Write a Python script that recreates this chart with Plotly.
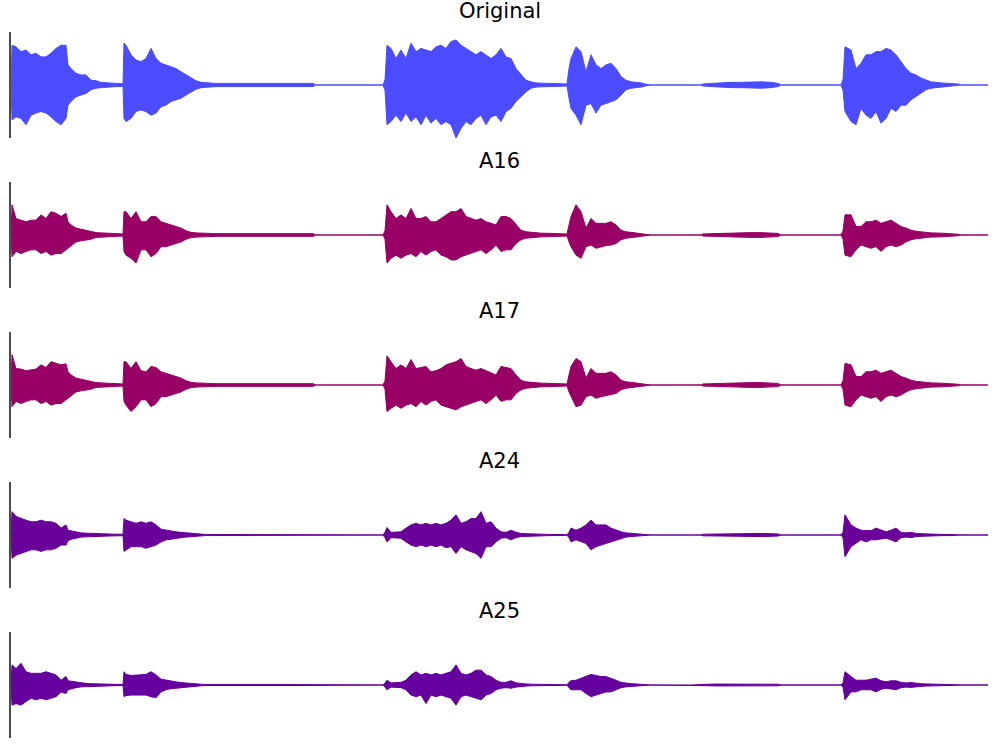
import plotly.graph_objects as go
from plotly.subplots import make_subplots

# time grid (seconds), shared by all series
T = [0.00,
     0.01, 0.05, 0.10, 0.15, 0.20, 0.25, 0.30, 0.35, 0.40, 0.45, 0.50, 0.55, 0.57, 0.60, 0.65, 0.70, 0.75, 0.80, 0.85, 0.90, 0.95, 1.00, 1.05, 1.10, 1.12,
     1.13, 1.15, 1.20, 1.25, 1.30, 1.35, 1.40, 1.45, 1.50, 1.55, 1.60, 1.65, 1.70, 1.75, 1.80, 1.85, 1.90, 1.95, 2.05, 2.20, 2.40, 2.60, 2.80, 3.02, 3.05,
     3.40, 3.72,
     3.74, 3.76, 3.80, 3.85, 3.90, 3.95, 4.00, 4.05, 4.10, 4.15, 4.20, 4.25, 4.30, 4.35, 4.40, 4.45, 4.50, 4.55, 4.60, 4.65, 4.70, 4.75, 4.80, 4.85,
     4.90, 4.95, 5.00, 5.05, 5.10, 5.15, 5.20, 5.25, 5.30, 5.40, 5.50, 5.56,
     5.58, 5.60, 5.65, 5.70, 5.75, 5.80, 5.85, 5.90, 5.95, 6.00, 6.05, 6.10, 6.15, 6.20, 6.25, 6.30, 6.36, 6.40,
     6.80, 6.90,
     6.92, 7.05, 7.20, 7.30, 7.40, 7.50, 7.60, 7.67, 7.70,
     8.10, 8.30,
     8.32, 8.34, 8.40, 8.45, 8.50, 8.55, 8.60, 8.65, 8.70, 8.75, 8.80, 8.85, 8.90, 8.95, 9.00, 9.05, 9.10, 9.15, 9.20, 9.30, 9.40, 9.47, 9.50,
     9.77]

titles = ["Original", "A16", "A17", "A24", "A25"]
colors = ["#4B4BFF", "#990066", "#990066", "#6A0099", "#65009F"]

# upper / lower envelope magnitudes of each waveform
orig_up = [0,
    0.75, 0.72, 0.63, 0.66, 0.57, 0.60, 0.53, 0.53, 0.60, 0.69, 0.75, 0.75, 0.38, 0.31, 0.22, 0.19, 0.19, 0.09, 0.08, 0.05, 0.04, 0.04, 0.03, 0.03, 0.02,
    0.79, 0.75, 0.57, 0.47, 0.44, 0.50, 0.69, 0.50, 0.41, 0.38, 0.35, 0.31, 0.25, 0.19, 0.13, 0.08, 0.05, 0.04, 0.03, 0.03, 0.025, 0.03, 0.03, 0.03, 0,
    0, 0,
    0.10, 0.75, 0.69, 0.50, 0.66, 0.50, 0.79, 0.63, 0.69, 0.66, 0.63, 0.72, 0.75, 0.69, 0.82, 0.85, 0.75, 0.69, 0.63, 0.57, 0.63, 0.57, 0.50, 0.57,
    0.69, 0.53, 0.50, 0.31, 0.19, 0.09, 0.06, 0.04, 0.035, 0.03, 0.03, 0.02,
    0.31, 0.50, 0.72, 0.63, 0.25, 0.57, 0.38, 0.31, 0.38, 0.41, 0.31, 0.16, 0.09, 0.06, 0.05, 0.04, 0.01, 0,
    0, 0,
    0.02, 0.04, 0.05, 0.05, 0.06, 0.06, 0.05, 0.03, 0,
    0, 0,
    0.10, 0.72, 0.66, 0.31, 0.41, 0.57, 0.57, 0.63, 0.63, 0.69, 0.66, 0.57, 0.44, 0.31, 0.22, 0.19, 0.13, 0.09, 0.06, 0.04, 0.03, 0.02, 0,
    0]
orig_lo = [0,
    0.66, 0.60, 0.63, 0.75, 0.57, 0.53, 0.50, 0.53, 0.60, 0.69, 0.75, 0.63, 0.38, 0.31, 0.22, 0.19, 0.16, 0.09, 0.06, 0.05, 0.04, 0.04, 0.03, 0.03, 0.02,
    0.63, 0.69, 0.63, 0.50, 0.47, 0.50, 0.57, 0.53, 0.41, 0.38, 0.31, 0.28, 0.25, 0.19, 0.13, 0.08, 0.05, 0.04, 0.03, 0.03, 0.025, 0.03, 0.03, 0.03, 0,
    0, 0,
    0.10, 0.75, 0.69, 0.57, 0.69, 0.53, 0.69, 0.60, 0.75, 0.57, 0.72, 0.63, 0.75, 0.69, 0.75, 1.00, 0.82, 0.69, 0.75, 0.63, 0.57, 0.75, 0.60, 0.57,
    0.69, 0.50, 0.44, 0.31, 0.22, 0.13, 0.06, 0.04, 0.035, 0.03, 0.03, 0.02,
    0.25, 0.44, 0.57, 0.75, 0.38, 0.35, 0.53, 0.38, 0.35, 0.31, 0.28, 0.19, 0.09, 0.06, 0.05, 0.04, 0.01, 0,
    0, 0,
    0.02, 0.04, 0.05, 0.05, 0.06, 0.06, 0.05, 0.03, 0,
    0, 0,
    0.10, 0.50, 0.69, 0.75, 0.44, 0.57, 0.63, 0.50, 0.72, 0.63, 0.44, 0.50, 0.38, 0.38, 0.28, 0.22, 0.16, 0.09, 0.06, 0.04, 0.03, 0.02, 0,
    0]

a16_up = [0,
    0.57, 0.31, 0.28, 0.25, 0.28, 0.28, 0.38, 0.31, 0.44, 0.41, 0.35, 0.41, 0.25, 0.19, 0.13, 0.11, 0.09, 0.06, 0.045, 0.04, 0.035, 0.03, 0.03, 0.03, 0.02,
    0.44, 0.44, 0.31, 0.44, 0.25, 0.25, 0.35, 0.35, 0.25, 0.22, 0.19, 0.16, 0.13, 0.08, 0.05, 0.04, 0.035, 0.03, 0.025, 0.025, 0.02, 0.025, 0.025, 0.025, 0,
    0, 0,
    0.08, 0.57, 0.44, 0.31, 0.38, 0.31, 0.50, 0.31, 0.31, 0.35, 0.25, 0.25, 0.31, 0.38, 0.44, 0.44, 0.50, 0.35, 0.31, 0.28, 0.31, 0.25, 0.22, 0.19,
    0.35, 0.35, 0.31, 0.19, 0.09, 0.06, 0.05, 0.04, 0.035, 0.03, 0.03, 0.02,
    0.19, 0.35, 0.57, 0.44, 0.13, 0.31, 0.22, 0.22, 0.22, 0.25, 0.19, 0.09, 0.06, 0.05, 0.04, 0.03, 0.01, 0,
    0, 0,
    0.02, 0.03, 0.04, 0.04, 0.045, 0.045, 0.04, 0.03, 0,
    0, 0,
    0.08, 0.38, 0.38, 0.16, 0.16, 0.25, 0.25, 0.28, 0.22, 0.25, 0.28, 0.22, 0.16, 0.13, 0.09, 0.07, 0.06, 0.05, 0.04, 0.035, 0.025, 0.015, 0,
    0]
a16_lo = [0,
    0.41, 0.31, 0.35, 0.31, 0.28, 0.28, 0.35, 0.31, 0.38, 0.35, 0.35, 0.28, 0.25, 0.19, 0.13, 0.11, 0.09, 0.08, 0.045, 0.04, 0.035, 0.03, 0.03, 0.03, 0.02,
    0.31, 0.38, 0.44, 0.53, 0.28, 0.28, 0.41, 0.35, 0.22, 0.22, 0.19, 0.16, 0.13, 0.08, 0.05, 0.04, 0.035, 0.03, 0.025, 0.025, 0.02, 0.025, 0.025, 0.025, 0,
    0, 0,
    0.08, 0.53, 0.44, 0.38, 0.44, 0.38, 0.35, 0.41, 0.31, 0.38, 0.31, 0.28, 0.38, 0.41, 0.47, 0.47, 0.41, 0.38, 0.35, 0.31, 0.28, 0.35, 0.28, 0.19,
    0.31, 0.28, 0.28, 0.16, 0.09, 0.06, 0.05, 0.04, 0.035, 0.03, 0.03, 0.02,
    0.13, 0.22, 0.38, 0.44, 0.22, 0.19, 0.25, 0.22, 0.20, 0.19, 0.16, 0.09, 0.06, 0.05, 0.04, 0.03, 0.01, 0,
    0, 0,
    0.02, 0.03, 0.04, 0.04, 0.045, 0.045, 0.04, 0.03, 0,
    0, 0,
    0.08, 0.38, 0.41, 0.28, 0.19, 0.22, 0.25, 0.22, 0.31, 0.22, 0.19, 0.22, 0.19, 0.13, 0.09, 0.07, 0.06, 0.05, 0.04, 0.035, 0.025, 0.015, 0,
    0]

a17_up = [0,
    0.57, 0.31, 0.30, 0.27, 0.28, 0.30, 0.38, 0.33, 0.44, 0.41, 0.38, 0.40, 0.25, 0.19, 0.13, 0.11, 0.09, 0.06, 0.045, 0.04, 0.035, 0.03, 0.03, 0.03, 0.02,
    0.44, 0.44, 0.31, 0.44, 0.27, 0.25, 0.35, 0.33, 0.25, 0.22, 0.19, 0.16, 0.13, 0.08, 0.05, 0.04, 0.035, 0.03, 0.025, 0.025, 0.02, 0.025, 0.025, 0.025, 0,
    0, 0,
    0.08, 0.55, 0.44, 0.31, 0.38, 0.31, 0.48, 0.31, 0.33, 0.35, 0.25, 0.27, 0.31, 0.38, 0.41, 0.44, 0.50, 0.35, 0.31, 0.28, 0.31, 0.27, 0.22, 0.19,
    0.35, 0.33, 0.31, 0.19, 0.09, 0.06, 0.05, 0.04, 0.035, 0.03, 0.03, 0.02,
    0.19, 0.35, 0.50, 0.44, 0.13, 0.31, 0.22, 0.22, 0.22, 0.25, 0.19, 0.09, 0.06, 0.05, 0.04, 0.03, 0.01, 0,
    0, 0,
    0.02, 0.03, 0.04, 0.04, 0.045, 0.045, 0.04, 0.03, 0,
    0, 0,
    0.08, 0.41, 0.38, 0.16, 0.16, 0.25, 0.25, 0.28, 0.22, 0.25, 0.28, 0.22, 0.16, 0.13, 0.09, 0.07, 0.06, 0.05, 0.04, 0.035, 0.025, 0.015, 0,
    0]
a17_lo = [0,
    0.41, 0.31, 0.35, 0.31, 0.28, 0.28, 0.35, 0.31, 0.38, 0.35, 0.35, 0.28, 0.25, 0.19, 0.13, 0.11, 0.09, 0.08, 0.045, 0.04, 0.035, 0.03, 0.03, 0.03, 0.02,
    0.31, 0.38, 0.50, 0.41, 0.28, 0.28, 0.41, 0.35, 0.22, 0.22, 0.19, 0.16, 0.13, 0.08, 0.05, 0.04, 0.035, 0.03, 0.025, 0.025, 0.02, 0.025, 0.025, 0.025, 0,
    0, 0,
    0.08, 0.50, 0.44, 0.38, 0.44, 0.38, 0.35, 0.41, 0.31, 0.38, 0.31, 0.28, 0.38, 0.41, 0.44, 0.47, 0.41, 0.38, 0.35, 0.31, 0.28, 0.35, 0.28, 0.19,
    0.31, 0.28, 0.28, 0.16, 0.09, 0.06, 0.05, 0.04, 0.035, 0.03, 0.03, 0.02,
    0.13, 0.22, 0.41, 0.38, 0.22, 0.19, 0.25, 0.22, 0.20, 0.19, 0.16, 0.09, 0.06, 0.05, 0.04, 0.03, 0.01, 0,
    0, 0,
    0.02, 0.03, 0.04, 0.04, 0.045, 0.045, 0.04, 0.03, 0,
    0, 0,
    0.08, 0.38, 0.41, 0.28, 0.19, 0.22, 0.25, 0.22, 0.31, 0.22, 0.19, 0.22, 0.19, 0.13, 0.09, 0.07, 0.06, 0.05, 0.04, 0.035, 0.025, 0.015, 0,
    0]

a24_up = [0,
    0.44, 0.35, 0.31, 0.28, 0.25, 0.25, 0.28, 0.25, 0.25, 0.22, 0.13, 0.19, 0.09, 0.08, 0.05, 0.04, 0.035, 0.03, 0.025, 0.02, 0.02, 0.015, 0.015, 0.015, 0.01,
    0.31, 0.28, 0.25, 0.22, 0.25, 0.22, 0.25, 0.19, 0.11, 0.09, 0.08, 0.06, 0.05, 0.04, 0.03, 0.02, 0.015, 0.01, 0.01, 0.01, 0.01, 0.012, 0.012, 0.01, 0,
    0, 0,
    0.05, 0.14, 0.05, 0.05, 0.06, 0.13, 0.19, 0.22, 0.19, 0.22, 0.19, 0.22, 0.19, 0.22, 0.28, 0.38, 0.22, 0.25, 0.31, 0.31, 0.44, 0.22, 0.25, 0.13,
    0.06, 0.05, 0.09, 0.05, 0.03, 0.025, 0.02, 0.015, 0.012, 0.01, 0.01, 0.005,
    0.05, 0.13, 0.09, 0.13, 0.19, 0.28, 0.19, 0.19, 0.19, 0.13, 0.09, 0.06, 0.04, 0.03, 0.02, 0.015, 0.005, 0,
    0, 0,
    0.015, 0.02, 0.025, 0.025, 0.03, 0.03, 0.025, 0.02, 0,
    0, 0,
    0.05, 0.38, 0.19, 0.13, 0.09, 0.09, 0.08, 0.13, 0.09, 0.06, 0.09, 0.13, 0.05, 0.04, 0.05, 0.03, 0.025, 0.02, 0.015, 0.012, 0.01, 0.005, 0,
    0]
a24_lo = [0,
    0.44, 0.38, 0.35, 0.31, 0.28, 0.28, 0.31, 0.28, 0.28, 0.25, 0.19, 0.19, 0.11, 0.08, 0.06, 0.04, 0.035, 0.03, 0.025, 0.02, 0.02, 0.015, 0.015, 0.015, 0.01,
    0.31, 0.28, 0.22, 0.22, 0.22, 0.25, 0.22, 0.19, 0.13, 0.09, 0.08, 0.06, 0.05, 0.04, 0.03, 0.02, 0.015, 0.01, 0.01, 0.01, 0.01, 0.012, 0.012, 0.01, 0,
    0, 0,
    0.05, 0.13, 0.05, 0.05, 0.06, 0.13, 0.19, 0.22, 0.19, 0.22, 0.19, 0.22, 0.19, 0.24, 0.22, 0.35, 0.22, 0.28, 0.31, 0.35, 0.44, 0.22, 0.22, 0.13,
    0.06, 0.05, 0.09, 0.05, 0.03, 0.025, 0.02, 0.015, 0.012, 0.01, 0.01, 0.005,
    0.05, 0.13, 0.09, 0.13, 0.16, 0.28, 0.22, 0.19, 0.16, 0.13, 0.09, 0.06, 0.04, 0.03, 0.02, 0.015, 0.005, 0,
    0, 0,
    0.015, 0.02, 0.025, 0.025, 0.03, 0.03, 0.025, 0.02, 0,
    0, 0,
    0.05, 0.41, 0.22, 0.16, 0.09, 0.13, 0.09, 0.09, 0.08, 0.06, 0.09, 0.13, 0.05, 0.04, 0.05, 0.03, 0.025, 0.02, 0.015, 0.012, 0.01, 0.005, 0,
    0]

a25_up = [0,
    0.38, 0.31, 0.41, 0.25, 0.22, 0.22, 0.22, 0.25, 0.22, 0.19, 0.09, 0.16, 0.08, 0.07, 0.05, 0.035, 0.03, 0.025, 0.02, 0.02, 0.015, 0.015, 0.012, 0.012, 0.01,
    0.25, 0.20, 0.18, 0.19, 0.19, 0.20, 0.25, 0.19, 0.11, 0.09, 0.07, 0.06, 0.045, 0.035, 0.025, 0.02, 0.015, 0.01, 0.008, 0.008, 0.008, 0.01, 0.01, 0.008, 0,
    0, 0,
    0.04, 0.09, 0.04, 0.04, 0.05, 0.09, 0.19, 0.25, 0.19, 0.22, 0.19, 0.22, 0.19, 0.22, 0.25, 0.38, 0.22, 0.19, 0.22, 0.28, 0.28, 0.19, 0.16, 0.09,
    0.05, 0.05, 0.08, 0.04, 0.025, 0.02, 0.015, 0.012, 0.01, 0.01, 0.008, 0.005,
    0.05, 0.08, 0.09, 0.13, 0.16, 0.20, 0.18, 0.16, 0.16, 0.13, 0.09, 0.05, 0.035, 0.025, 0.02, 0.015, 0.005, 0,
    0, 0,
    0.012, 0.018, 0.02, 0.022, 0.025, 0.025, 0.022, 0.015, 0,
    0, 0,
    0.04, 0.25, 0.16, 0.09, 0.09, 0.09, 0.11, 0.13, 0.08, 0.06, 0.08, 0.08, 0.05, 0.04, 0.045, 0.03, 0.025, 0.02, 0.015, 0.01, 0.008, 0.005, 0,
    0]
a25_lo = [0,
    0.38, 0.35, 0.38, 0.31, 0.25, 0.28, 0.25, 0.28, 0.25, 0.22, 0.13, 0.16, 0.09, 0.07, 0.05, 0.035, 0.03, 0.025, 0.02, 0.02, 0.015, 0.015, 0.012, 0.012, 0.01,
    0.22, 0.20, 0.19, 0.19, 0.20, 0.19, 0.22, 0.24, 0.13, 0.09, 0.07, 0.06, 0.045, 0.035, 0.025, 0.02, 0.015, 0.01, 0.008, 0.008, 0.008, 0.01, 0.01, 0.008, 0,
    0, 0,
    0.04, 0.09, 0.04, 0.04, 0.05, 0.09, 0.19, 0.22, 0.19, 0.35, 0.19, 0.22, 0.19, 0.22, 0.25, 0.38, 0.22, 0.19, 0.22, 0.25, 0.28, 0.19, 0.16, 0.09,
    0.06, 0.05, 0.06, 0.04, 0.025, 0.02, 0.015, 0.012, 0.01, 0.01, 0.008, 0.005,
    0.05, 0.09, 0.09, 0.09, 0.16, 0.22, 0.19, 0.16, 0.13, 0.13, 0.09, 0.05, 0.035, 0.025, 0.02, 0.015, 0.005, 0,
    0, 0,
    0.012, 0.018, 0.02, 0.022, 0.025, 0.025, 0.022, 0.015, 0,
    0, 0,
    0.04, 0.28, 0.13, 0.13, 0.09, 0.09, 0.09, 0.13, 0.08, 0.06, 0.08, 0.09, 0.05, 0.04, 0.045, 0.03, 0.025, 0.02, 0.015, 0.01, 0.008, 0.005, 0,
    0]

uppers = [orig_up, a16_up, a17_up, a24_up, a25_up]
lowers = [orig_lo, a16_lo, a17_lo, a24_lo, a25_lo]
for u, l in zip(uppers, lowers):
    assert len(u) == len(T) and len(l) == len(T), (len(u), len(l), len(T))

W, H = 1000, 750
mt, mb, ml, mr = 32, 12, 11, 12
gap = 44
fig = make_subplots(rows=5, cols=1, vertical_spacing=gap / (H - mt - mb))

for i in range(5):
    r = i + 1
    c = colors[i]
    fig.add_trace(go.Scatter(x=T, y=uppers[i], mode="lines",
                             line=dict(color=c, width=1), hoverinfo="skip",
                             showlegend=False), row=r, col=1)
    fig.add_trace(go.Scatter(x=T, y=[-v for v in lowers[i]], mode="lines",
                             line=dict(color=c, width=1), fill="tonexty",
                             fillcolor=c, hoverinfo="skip",
                             showlegend=False), row=r, col=1)
    fig.update_xaxes(visible=False, range=[0, 9.77], row=r, col=1)
    fig.update_yaxes(range=[-1, 1], showticklabels=False, ticks="",
                     showgrid=False, zeroline=False, showline=True,
                     linecolor="rgba(0,0,0,0.7)", linewidth=1.5,
                     row=r, col=1)

annotations = []
for i in range(5):
    yname = "yaxis" if i == 0 else f"yaxis{i+1}"
    top = fig.layout[yname].domain[1]
    annotations.append(dict(text=titles[i], x=0.5, xref="paper", y=top,
                            yref="paper", xanchor="center", yanchor="middle",
                            yshift=21, showarrow=False,
                            font=dict(family="DejaVu Sans", size=21,
                                      color="black")))

fig.update_layout(width=W, height=H,
                  margin=dict(l=ml, r=mr, t=mt, b=mb),
                  paper_bgcolor="white", plot_bgcolor="white",
                  annotations=annotations,
                  font=dict(family="DejaVu Sans"))

# let the fixed-size figure fill the page without the default body margin
fig.write_html("out.html",
               config={"displayModeBar": False},
               post_script="document.body.style.margin='0';"
                           "document.body.style.overflow='hidden';")
